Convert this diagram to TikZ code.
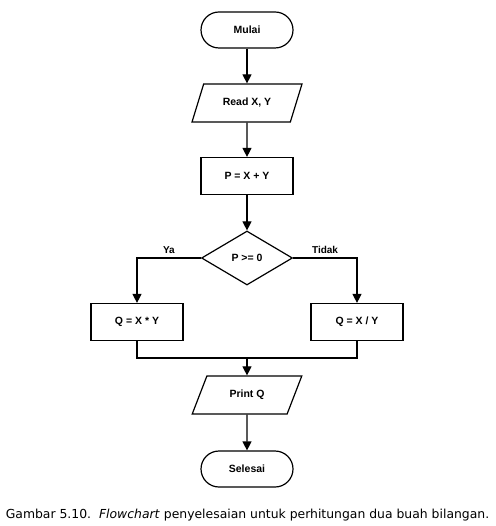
\documentclass[tikz,border=0pt]{standalone}
\usepackage{fontspec}
\setmainfont{DejaVu Sans}
\newfontfamily\chartfont{Liberation Sans}
\usepackage{xcolor}
\usepackage{tikz}
\usetikzlibrary{shapes.geometric,arrows.meta}

\begin{document}
\begin{tikzpicture}[x=1pt, y=1pt, node distance=73pt, auto]
		% Define styles
		\tikzstyle{terminal} = [rectangle, rounded corners=18pt, minimum width=92pt, minimum height=36pt, text centered, draw=black, line width=1.2pt, font=\chartfont\bfseries\fontsize{10.5}{12}\selectfont]
		\tikzstyle{io} = [trapezium, trapezium left angle=65, trapezium right angle=115, trapezium stretches=true, minimum width=110pt, minimum height=38pt, text centered, draw=black, line width=1.2pt, font=\chartfont\bfseries\fontsize{10.5}{12}\selectfont]
		\tikzstyle{process} = [rectangle, minimum width=92pt, minimum height=37pt, text centered, draw=black, line width=1.2pt, font=\chartfont\bfseries\fontsize{10.5}{12}\selectfont]
		\tikzstyle{decision} = [diamond, aspect=1.7, minimum width=91pt, minimum height=54pt, inner sep=0pt, text centered, draw=black, line width=1.2pt, font=\chartfont\bfseries\fontsize{10.5}{12}\selectfont]
		\tikzstyle{line} = [line width=1.2pt, draw=black]
		\tikzstyle{arrow} = [line width=1.2pt, -{Triangle[width=9pt,length=9pt]}, draw=black]
		\tikzstyle{branch} = [font=\chartfont\bfseries\fontsize{10}{11}\selectfont]

		\useasboundingbox (0,0) rectangle (495,-526);

		% Nodes
		\node[terminal] (mulai) at (247,-30) {Mulai};
		\node[io, below of=mulai] (baca) {Read X, Y};
		\node[process, below of=baca] (jumlah) {P = X + Y};
		\node[decision, below of=jumlah, node distance=82pt] (cek) {P >= 0};
		\node[process, below of=cek, xshift=-110pt, node distance=64pt] (kali) {Q = X * Y};
		\node[process, below of=cek, xshift=110pt, node distance=64pt] (bagi) {Q = X / Y};
		\coordinate[below of=cek, node distance=100pt] (gabung);
		\node[io, below of=cek, node distance=137pt] (cetak) {Print Q};
		\node[terminal, below of=cetak, node distance=74pt] (selesai) {Selesai};

		% Arrows
		\draw[arrow] (mulai) -- (baca);
		\draw[arrow] (baca) -- (jumlah);
		\draw[arrow] (jumlah) -- (cek);
		\draw[arrow] (cek.west) -| node[pos=0.25, above, branch] {Ya} (kali);
		\draw[arrow] (cek.east) -| node[pos=0.25, above, branch] {Tidak} (bagi);
		\draw[line] (kali) |- (gabung) -| (bagi);
		\draw[arrow] (gabung) -- (cetak);
		\draw[arrow] (cetak) -- (selesai);

		% Caption
		\node[anchor=base, font=\fontsize{12.4}{14}\selectfont] (judul) at (247.5,-518) {Gambar 5.10.\ \ \textit{Flowchart} penyelesaian untuk perhitungan dua buah bilangan.};
	\end{tikzpicture}
\end{document}
